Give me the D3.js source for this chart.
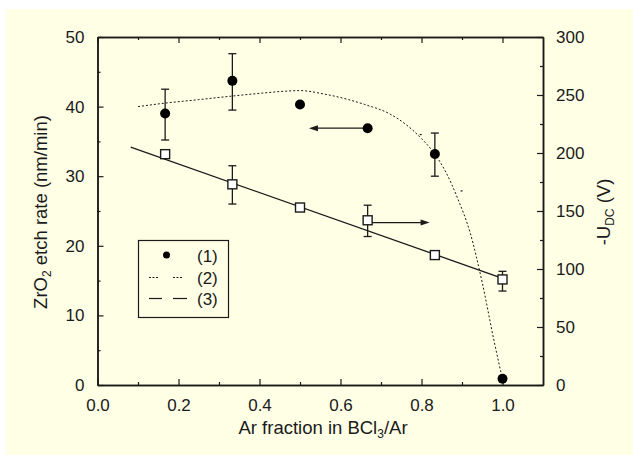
<!DOCTYPE html>
<html>
<head>
<meta charset="utf-8">
<script src="https://cdn.jsdelivr.net/npm/d3@7"></script>
<style>
  body { margin: 0; background: #fff; }
  svg { display: block; font-family: "Liberation Sans", Arial, sans-serif; }
</style>
</head>
<body>
<svg id="chart" width="635" height="457"></svg>
<script>
// ar fraction of the measured points
const arFraction = [0.167, 0.333, 0.5, 0.667, 0.833, 1.0];
// (1) etch rate, nm/min, left axis
const etchRate = [39.0, 43.7, 40.3, 36.9, 33.2, 0.9];
const etchLo = [35.2, 39.5, null, null, 30.0, null];
const etchHi = [42.5, 47.6, null, null, 36.2, null];
// -U_DC, V, right axis
const biasV = [199, 173, 153, 142, 112, 91];
const biasLo = [null, 156, null, 128, null, 81];
const biasHi = [null, 189, null, 155, null, 98];
// (3) linear fit of -U_DC
const fitX = [0.082, 1.0];
const fitV = [205, 92];
// (2) model curve of etch rate
const curveX = [0.1, 0.167, 0.25, 0.33, 0.4, 0.46, 0.5, 0.56, 0.62, 0.66, 0.72, 0.76, 0.8, 0.83, 0.86, 0.89, 0.92, 0.95, 0.98, 1.0];
const curveY = [40.0, 40.5, 41.0, 41.5, 41.9, 42.2, 42.3, 41.8, 41.0, 40.3, 39.0, 37.5, 35.4, 33.4, 30.6, 26.7, 21.9, 14.7, 6.1, 0.8];
// stray marks left in the plot
const strayX = [0.798, 0.899];
const strayY = [36.0, 27.9];

const xTicks = [0, 0.2, 0.4, 0.6, 0.8, 1.0];
const yLeftTicks = [0, 10, 20, 30, 40, 50];
const yRightTicks = [0, 50, 100, 150, 200, 250, 300];

const svg = d3.select('#chart');
const ink = '#1a1a1a';

svg.append('rect')
    .attr('x', 6).attr('y', 9)
    .attr('width', 627).attr('height', 446)
    .attr('fill', '#ffffe6');

const x = d3.scaleLinear().domain([0, 1.1]).range([97.5, 543]);
const yL = d3.scaleLinear().domain([0, 50]).range([385, 37]);
const yR = d3.scaleLinear().domain([0, 300]).range([385, 37]);

// axes: ticks pointing inward
const fmtX = d3.format('.1f');
function styleAxis(g) {
    g.select('.domain').attr('stroke', ink).attr('stroke-width', 1.5);
    g.selectAll('.tick line').attr('stroke', ink).attr('stroke-width', 1.2);
    g.selectAll('text').attr('fill', ink).attr('font-size', 17)
        .attr('font-family', '"Liberation Sans", Arial, sans-serif');
}

// bottom
svg.append('g').attr('transform', 'translate(0,385)')
    .call(d3.axisBottom(x).tickValues(d3.range(0.1, 1.1, 0.2)).tickSize(-3).tickFormat('').tickSizeOuter(0))
    .call(styleAxis);
svg.append('g').attr('transform', 'translate(0,385)')
    .call(d3.axisBottom(x).tickValues(xTicks).tickSize(-6).tickPadding(14).tickFormat(fmtX).tickSizeOuter(0))
    .call(styleAxis);
// top
svg.append('g').attr('transform', 'translate(0,37)')
    .call(d3.axisTop(x).tickValues(d3.range(0.1, 1.1, 0.2)).tickSize(-3).tickFormat('').tickSizeOuter(0))
    .call(styleAxis);
svg.append('g').attr('transform', 'translate(0,37)')
    .call(d3.axisTop(x).tickValues(xTicks).tickSize(-6).tickFormat('').tickSizeOuter(0))
    .call(styleAxis);
// left
svg.append('g').attr('transform', 'translate(97.5,0)')
    .call(d3.axisLeft(yL).tickValues(d3.range(5, 50, 10)).tickSize(-3).tickFormat('').tickSizeOuter(0))
    .call(styleAxis);
svg.append('g').attr('transform', 'translate(97.5,0)')
    .call(d3.axisLeft(yL).tickValues(yLeftTicks).tickSize(-6).tickPadding(13).tickSizeOuter(0))
    .call(styleAxis);
// right
svg.append('g').attr('transform', 'translate(543,0)')
    .call(d3.axisRight(yR).tickValues(d3.range(25, 300, 50)).tickSize(-3).tickFormat('').tickSizeOuter(0))
    .call(styleAxis);
svg.append('g').attr('transform', 'translate(543,0)')
    .call(d3.axisRight(yR).tickValues(yRightTicks).tickSize(-6).tickPadding(13).tickSizeOuter(0))
    .call(styleAxis);

// axis titles
const xt = svg.append('text')
    .attr('x', 323).attr('y', 434)
    .attr('text-anchor', 'middle').attr('font-size', 18.5).attr('fill', ink);
xt.append('tspan').text('Ar fraction in BCl');
xt.append('tspan').text('3').attr('font-size', 12).attr('dy', 4);
xt.append('tspan').text('/Ar').attr('dy', -4);

const yt = svg.append('text')
    .attr('transform', 'translate(47,212) rotate(-90)')
    .attr('text-anchor', 'middle').attr('font-size', 18.5).attr('fill', ink);
yt.append('tspan').text('ZrO');
yt.append('tspan').text('2').attr('font-size', 12).attr('dy', 4);
yt.append('tspan').text(' etch rate (nm/min)').attr('dy', -4);

const rt = svg.append('text')
    .attr('transform', 'translate(610,212) rotate(-90)')
    .attr('text-anchor', 'middle').attr('font-size', 18.5).attr('fill', ink);
rt.append('tspan').text('-U');
rt.append('tspan').text('DC').attr('font-size', 12).attr('dy', 4);
rt.append('tspan').text(' (V)').attr('dy', -4);

// (2) dotted model curve
const curve = curveX.map((d, i) => [d, curveY[i]]);
svg.append('path')
    .datum(curve)
    .attr('d', d3.line().x(d => x(d[0])).y(d => yL(d[1])).curve(d3.curveMonotoneX))
    .attr('fill', 'none').attr('stroke', ink).attr('stroke-width', 1)
    .attr('stroke-dasharray', '2,2');

svg.selectAll('.stray')
    .data(strayX.map((d, i) => [d, strayY[i]]))
    .enter().append('rect')
    .attr('x', d => x(d[0]) - 1).attr('y', d => yL(d[1]) - 0.5)
    .attr('width', 2).attr('height', 1.2).attr('fill', ink);

// (3) linear fit
svg.append('path')
    .datum(fitX.map((d, i) => [d, fitV[i]]))
    .attr('d', d3.line().x(d => x(d[0])).y(d => yR(d[1])))
    .attr('fill', 'none').attr('stroke', ink).attr('stroke-width', 1.3);

// error bars
function errBars(lo, hi, ys) {
    arFraction.forEach((d, i) => {
        if (lo[i] == null) return;
        const cx = x(d);
        svg.append('line').attr('x1', cx).attr('x2', cx)
            .attr('y1', ys(lo[i])).attr('y2', ys(hi[i]))
            .attr('stroke', ink).attr('stroke-width', 1.3);
        [lo[i], hi[i]].forEach(v => {
            svg.append('line').attr('x1', cx - 4).attr('x2', cx + 4)
                .attr('y1', ys(v)).attr('y2', ys(v))
                .attr('stroke', ink).attr('stroke-width', 1.3);
        });
    });
}
errBars(etchLo, etchHi, yL);
errBars(biasLo, biasHi, yR);

// arrows
const arrowTo = [[0.667, 36.9, 0.522, yL], [0.667, 140, 0.82, yR]];
arrowTo.forEach(a => {
    const x0 = x(a[0]), x1 = x(a[2]), yy = a[3](a[1]);
    const dir = Math.sign(x1 - x0);
    svg.append('line').attr('x1', x0).attr('x2', x1 - dir * 6)
        .attr('y1', yy).attr('y2', yy).attr('stroke', ink).attr('stroke-width', 1.3);
    svg.append('path')
        .attr('d', `M${x1},${yy}L${x1 - dir * 9},${yy - 3}L${x1 - dir * 9},${yy + 3}Z`)
        .attr('fill', ink);
});

// (1) filled circles
svg.selectAll('.dot')
    .data(arFraction.map((d, i) => [d, etchRate[i]]))
    .enter().append('circle')
    .attr('cx', d => x(d[0])).attr('cy', d => yL(d[1]))
    .attr('r', 5).attr('fill', '#000');

// open squares for -U_DC
svg.selectAll('.sq')
    .data(arFraction.map((d, i) => [d, biasV[i]]))
    .enter().append('rect')
    .attr('x', d => x(d[0]) - 4.5).attr('y', d => yR(d[1]) - 4.5)
    .attr('width', 9).attr('height', 9)
    .attr('fill', '#fff').attr('stroke', ink).attr('stroke-width', 1.4);

// legend
const lg = svg.append('g');
lg.append('rect').attr('x', 138.5).attr('y', 240.5).attr('width', 90).attr('height', 77)
    .attr('fill', 'none').attr('stroke', ink).attr('stroke-width', 1.2);
lg.append('circle').attr('cx', 166.5).attr('cy', 255).attr('r', 3.5).attr('fill', '#000');
[[149, 159], [173, 183]].forEach(s => {
    lg.append('line').attr('x1', s[0]).attr('x2', s[1]).attr('y1', 277.5).attr('y2', 277.5)
        .attr('stroke', ink).attr('stroke-width', 1).attr('stroke-dasharray', '2,1.5');
});
[[149, 162], [173, 187]].forEach(s => {
    lg.append('line').attr('x1', s[0]).attr('x2', s[1]).attr('y1', 298.5).attr('y2', 298.5)
        .attr('stroke', ink).attr('stroke-width', 1.2);
});
['(1)', '(2)', '(3)'].forEach((t, i) => {
    lg.append('text').attr('x', 197).attr('y', 262 + i * 21.5)
        .attr('font-size', 17).attr('fill', ink).text(t);
});
</script>
</body>
</html>
